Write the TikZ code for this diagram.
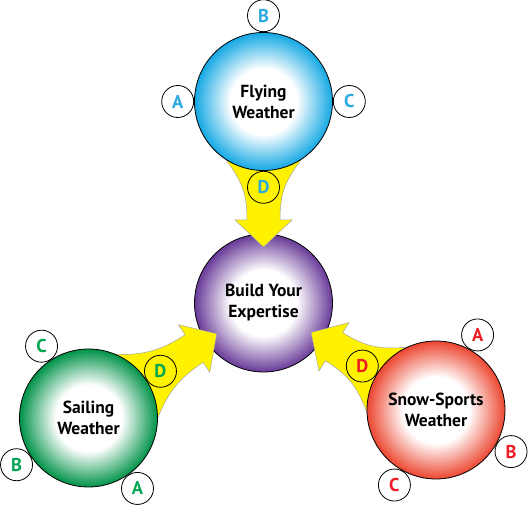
\documentclass[tikz,border=0pt]{standalone}
\usepackage{fontspec}
\setmainfont{PT Sans}
\usetikzlibrary{positioning}
\definecolor{flyblue}{RGB}{20,168,228}
\definecolor{midpurple}{RGB}{104,58,152}
\definecolor{sailgreen}{RGB}{0,146,72}
\definecolor{snowred}{RGB}{236,70,48}
\definecolor{tagblue}{RGB}{41,169,224}
\definecolor{taggreen}{RGB}{0,166,81}
\definecolor{tagred}{RGB}{237,28,36}
\definecolor{arrowyellow}{RGB}{255,242,0}
\pgfdeclareradialshading[globecol]{glowball}{\pgfpointorigin}{color(0bp)=(white); color(12bp)=(white); color(25bp)=(globecol); color(50bp)=(globecol)}
\tikzstyle{bubble} = [circle,
    draw=black, line width=0.8pt,
    minimum size=138pt,
    inner sep=0pt,
    align=center,
    font=\bfseries\fontsize{17.5}{21}\selectfont,
    shading=glowball]
\tikzstyle{tag} = [circle, draw=black, line width=0.8pt,
    minimum size=32pt, inner sep=0pt,
    font=\bfseries\fontsize{18.5}{18.5}\selectfont]

\begin{document}
\begin{tikzpicture}[x=1pt, y=1pt,
    glow/.code={\colorlet{globecol}{#1}},
    funnel/.style={fill=arrowyellow, draw=black!35, line width=0.5pt}
    ]
  \useasboundingbox (0,0) rectangle (528,506);
  % centre circle
  \node [bubble, glow=midpurple] (mid) at (263.5,203) {Build Your\\Expertise};
  % yellow arrows into the centre
  \foreach \ang/\d in {90/201.5, 213.3/209.4, -31.8/203}
    \filldraw [funnel, shift={(mid)}, rotate=\ang]
      (56,0) -- (83,28.5) -- (83,16.5)
      .. controls (112,16.5) and (\d-78,22) .. (\d-50,44)
      -- (\d-50,-44)
      .. controls (\d-78,-22) and (112,-16.5) .. (83,-16.5)
      -- (83,-28.5) -- cycle;
  % outer circles
  \node [bubble, glow=flyblue] (fly) at (263.5,404.5) {Flying\\Weather};
  \node [bubble, glow=sailgreen] (sail) at (88.5,88) {Sailing\\Weather};
  \node [bubble, glow=snowred] (snow) at (436,96) {Snow-Sports\\Weather};
  % letter tags
  \node [tag, fill=white, text=tagblue, anchor=0] (flyA) at (fly.180) {A};
  \node [tag, fill=white, text=tagblue, anchor=270] (flyB) at (fly.90) {B};
  \node [tag, fill=white, text=tagblue, anchor=180] (flyC) at (fly.0) {C};
  \node [tag, text=tagblue, anchor=90] (flyD) at (fly.270) {D};
  \node [tag, fill=white, text=taggreen, anchor=124.3] (sailA) at (sail.-55.7) {A};
  \node [tag, fill=white, text=taggreen, anchor=33.3] (sailB) at (sail.213.3) {B};
  \node [tag, fill=white, text=taggreen, anchor=-56.8] (sailC) at (sail.123.2) {C};
  \node [tag, text=taggreen, anchor=213.9] (sailD) at (sail.33.9) {D};
  \node [tag, fill=white, text=tagred, anchor=241.1] (snowA) at (snow.61.1) {A};
  \node [tag, fill=white, text=tagred, anchor=151] (snowB) at (snow.-29) {B};
  \node [tag, fill=white, text=tagred, anchor=61] (snowC) at (snow.241) {C};
  \node [tag, text=tagred, anchor=-30.2] (snowD) at (snow.149.8) {D};
\end{tikzpicture}
\end{document}
